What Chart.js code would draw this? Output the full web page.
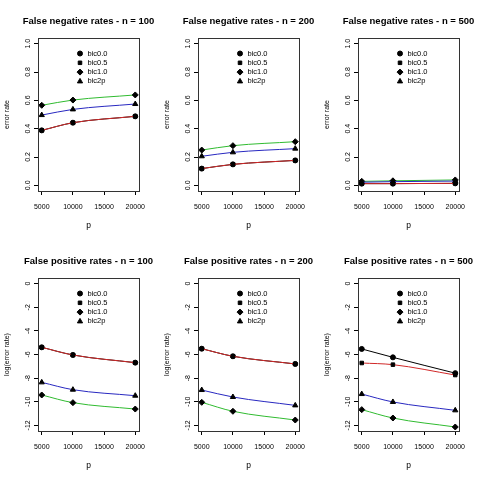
<!DOCTYPE html>
<html>
<head>
<meta charset="utf-8">
<script src="https://cdn.jsdelivr.net/npm/chart.js@4"></script>
<style>
  html, body { margin: 0; padding: 0; background: #fff; }
  #grid { display: grid; grid-template-columns: 160px 160px 160px; grid-template-rows: 240px 240px; width: 480px; height: 480px; }
  #grid canvas { display: block; }
</style>
</head>
<body>
<div id="grid">
  <canvas id="fn-100" width="160" height="240"></canvas>
  <canvas id="fn-200" width="160" height="240"></canvas>
  <canvas id="fn-500" width="160" height="240"></canvas>
  <canvas id="fp-100" width="160" height="240"></canvas>
  <canvas id="fp-200" width="160" height="240"></canvas>
  <canvas id="fp-500" width="160" height="240"></canvas>
</div>
<script>
// data (one row per n = 100, 200, 500)
const sampleSizes = [100, 200, 500];
const pValues = [5000, 10000, 20000];
const xTicks = [5000, 10000, 15000, 20000];
const fnTicks = [0, 0.2, 0.4, 0.6, 0.8, 1.0];
const fpTicks = [0, -2, -4, -6, -8, -10, -12];
const methods = ['bic0.0', 'bic0.5', 'bic1.0', 'bic2p'];

// false negative rates
const fnBic00 = [[0.388, 0.442, 0.487], [0.118, 0.148, 0.176], [0.012, 0.012, 0.014]];
const fnBic05 = [[0.388, 0.442, 0.487], [0.118, 0.148, 0.176], [0.012, 0.012, 0.014]];
const fnBic10 = [[0.565, 0.602, 0.638], [0.249, 0.280, 0.308], [0.028, 0.032, 0.038]];
const fnBic2p = [[0.496, 0.536, 0.574], [0.205, 0.233, 0.259], [0.022, 0.026, 0.030]];

// false positive rates, log scale
const fpBic00 = [[-5.39, -6.04, -6.69], [-5.51, -6.15, -6.80], [-5.53, -6.24, -7.58]];
const fpBic05 = [[-5.39, -6.04, -6.69], [-5.51, -6.15, -6.80], [-6.72, -6.86, -7.74]];
const fpBic10 = [[-9.43, -10.08, -10.62], [-10.05, -10.81, -11.55], [-10.67, -11.38, -12.14]];
const fpBic2p = [[-8.36, -8.98, -9.49], [-9.01, -9.60, -10.31], [-9.35, -10.02, -10.73]];

const lineColors = ['#000000', '#d02828', '#30bb30', '#2828c0'];
const pointStyles = ['circle', 'rect', 'rectRot', 'triangle'];
const pointSizes = [2.5, 2.5, 3, 3];
const FONT = '"Liberation Sans", Arial, sans-serif';

// box round the plot region
const frameBox = {
    id: 'frameBox',
    afterDraw(chart) {
        const { ctx, chartArea } = chart;
        ctx.save();
        ctx.strokeStyle = '#333';
        ctx.lineWidth = 1;
        ctx.strokeRect(Math.round(chartArea.left) + 0.5, Math.round(chartArea.top) + 0.5,
            Math.round(chartArea.right - chartArea.left), Math.round(chartArea.bottom - chartArea.top));
        ctx.restore();
    }
};

// title centred over the plot region, not over the canvas
const panelTitle = {
    id: 'panelTitle',
    afterDraw(chart, args, opts) {
        const { ctx, chartArea } = chart;
        ctx.save();
        ctx.font = 'bold 9.5px ' + FONT;
        ctx.fillStyle = '#000';
        ctx.textAlign = 'center';
        ctx.textBaseline = 'middle';
        ctx.fillText(opts.text, (chartArea.left + chartArea.right) / 2, 21);
        ctx.restore();
    }
};

const insideLegend = {
    id: 'insideLegend',
    afterDatasetsDraw(chart) {
        const { ctx, chartArea } = chart;
        const x = chartArea.left + 42;
        let y = chartArea.top + 15.5;
        ctx.save();
        ctx.font = '7.5px ' + FONT;
        ctx.textBaseline = 'middle';
        methods.forEach((name, i) => {
            ctx.fillStyle = '#000';
            ctx.strokeStyle = '#000';
            Chart.helpers.drawPoint(ctx, { pointStyle: pointStyles[i], radius: pointSizes[i], borderWidth: 1, rotation: 0 }, x, y);
            ctx.fillText(name, x + 7.5, y);
            y += 9.3;
        });
        ctx.restore();
    }
};

function makeChart(id, title, yTitle, series, yMin, yMax, yTicks, digits) {
    const ctx = document.getElementById(id).getContext('2d');
    const datasets = series.map((values, i) => ({
        label: methods[i],
        data: values.map((v, j) => ({ x: pValues[j], y: v })),
        borderColor: lineColors[i],
        borderWidth: 1,
        backgroundColor: '#000',
        pointBackgroundColor: '#000',
        pointBorderColor: '#000',
        pointBorderWidth: 1,
        pointStyle: pointStyles[i],
        pointRadius: pointSizes[i],
        cubicInterpolationMode: 'monotone',
        order: 4 - i
    }));

    return new Chart(ctx, {
        type: 'line',
        data: { datasets },
        plugins: [frameBox, insideLegend, panelTitle],
        options: {
            responsive: false,
            animation: false,
            events: [],
            layout: { padding: { left: 0, right: 21, top: 38, bottom: 0 } },
            plugins: {
                legend: { display: false },
                tooltip: { enabled: false },
                title: { display: false },
                panelTitle: { text: title }
            },
            scales: {
                x: {
                    type: 'linear',
                    min: 4400,
                    max: 20600,
                    afterBuildTicks: scale => { scale.ticks = xTicks.map(v => ({ value: v })); },
                    afterFit: scale => { scale.height = 49; },
                    border: { display: false },
                    grid: { drawOnChartArea: false, drawTicks: true, tickLength: 4, tickColor: '#000' },
                    ticks: { color: '#000', font: { family: FONT, size: 7 }, padding: 8, autoSkip: false, maxRotation: 0,
                        callback: v => String(v) },
                    title: { display: true, text: 'p', color: '#000', font: { family: FONT, size: 8.5 }, padding: { top: 0, bottom: 9 } }
                },
                y: {
                    type: 'linear',
                    min: yMin,
                    max: yMax,
                    afterBuildTicks: scale => { scale.ticks = yTicks.map(v => ({ value: v })); },
                    afterFit: scale => { scale.width = 38; },
                    border: { display: false },
                    grid: { drawOnChartArea: false, drawTicks: true, tickLength: 4, tickColor: '#000' },
                    ticks: { color: '#000', font: { family: FONT, size: 7 }, padding: 1, autoSkip: false,
                        minRotation: 90, maxRotation: 90, crossAlign: 'center',
                        callback: v => v.toFixed(digits) },
                    title: { display: true, text: yTitle, color: '#000', font: { family: FONT, size: 7 }, padding: { top: 3, bottom: 0 } }
                }
            }
        }
    });
}

sampleSizes.forEach((n, k) => {
    makeChart('fn-' + n, 'False negative rates - n = ' + n, 'error rate',
        [fnBic00[k], fnBic05[k], fnBic10[k], fnBic2p[k]], -0.04, 1.04, fnTicks, 1);
    makeChart('fp-' + n, 'False positive rates - n = ' + n, 'log(error rate)',
        [fpBic00[k], fpBic05[k], fpBic10[k], fpBic2p[k]], -12.48, 0.48, fpTicks, 0);
});
</script>
</body>
</html>
